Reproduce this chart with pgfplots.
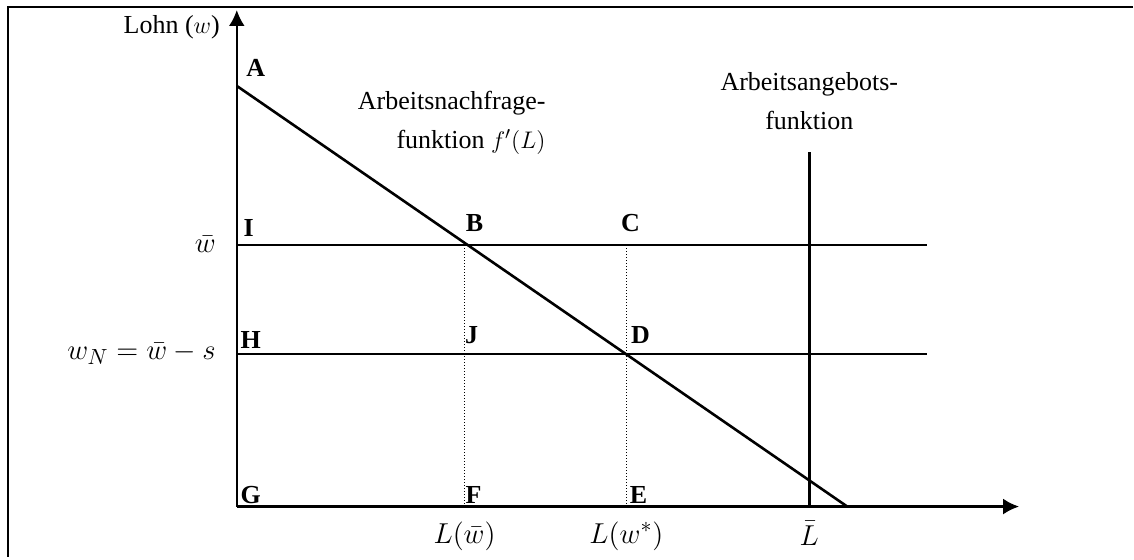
\documentclass[border=0pt]{standalone}
\usepackage{fontspec}
\setmainfont{Liberation Serif}
\usepackage{pgfplots}
\pgfplotsset{compat=1.18}
\usetikzlibrary{arrows.meta}
\begin{document}
\fontsize{13}{19.5}\selectfont
\begin{tikzpicture}
\begin{axis}[
  x=0.5pt, y=0.5pt,
  xmin=0, xmax=783, ymin=0, ymax=497,
  axis lines=left,
  axis line style={line width=1.2pt},
  x axis line style={-{Latex[length=8pt,width=8pt]}},
  y axis line style={-{Latex[length=8pt,width=8pt]}},
  clip=false,
  xtick={228,390,573},
  xticklabels={$L(\bar w)$,$L(w^*)$,$\bar L$},
  ytick={262,153},
  yticklabels={$\bar w$,$w_N=\bar w-s$},
  major tick length=0pt,
  tick label style={font=\fontsize{15.5}{18}\selectfont},
  xticklabel style={yshift=-3pt},
  yticklabel style={xshift=-6pt},
]
% frame (only top and left edges inside the page)
\addplot[line width=1pt, black] coordinates {(897,500) (-229,500) (-229,-50)};
\path (axis cs:-237,-50) rectangle (axis cs:897,507);
% demand
\addplot[line width=1.3pt, black] coordinates {(0,421) (611,0)};
% supply
\addplot[line width=1.3pt, black] coordinates {(573,0) (573,355)};
% horizontal wage lines
\addplot[line width=1pt, black] coordinates {(0,262) (691,262)};
\addplot[line width=1pt, black] coordinates {(0,153) (691,153)};
% dotted verticals
\addplot[line width=0.5pt, black, densely dotted] coordinates {(228,0) (228,262)};
\addplot[line width=0.5pt, black, densely dotted] coordinates {(390,0) (390,262)};
% texts
\node[anchor=east] at (axis cs:-8,480) {Lohn ($w$)};
\node[anchor=east, align=right] at (axis cs:318,384) {Arbeitsnachfrage-\\funktion $f'(L)$};
\node[align=center] at (axis cs:573,406) {Arbeitsangebots-\\funktion};
\begin{scope}[every node/.style={font=\bfseries\fontsize{13}{15}\selectfont, inner sep=0pt}]
\node at (axis cs:19,439) {A};
\node at (axis cs:12,279) {I};
\node at (axis cs:238,284) {B};
\node at (axis cs:394,284) {C};
\node at (axis cs:14,167) {H};
\node at (axis cs:235,172) {J};
\node at (axis cs:404,172) {D};
\node at (axis cs:14,12) {G};
\node at (axis cs:237,12) {F};
\node at (axis cs:402,12) {E};
\end{scope}
\end{axis}
\end{tikzpicture}
\end{document}
